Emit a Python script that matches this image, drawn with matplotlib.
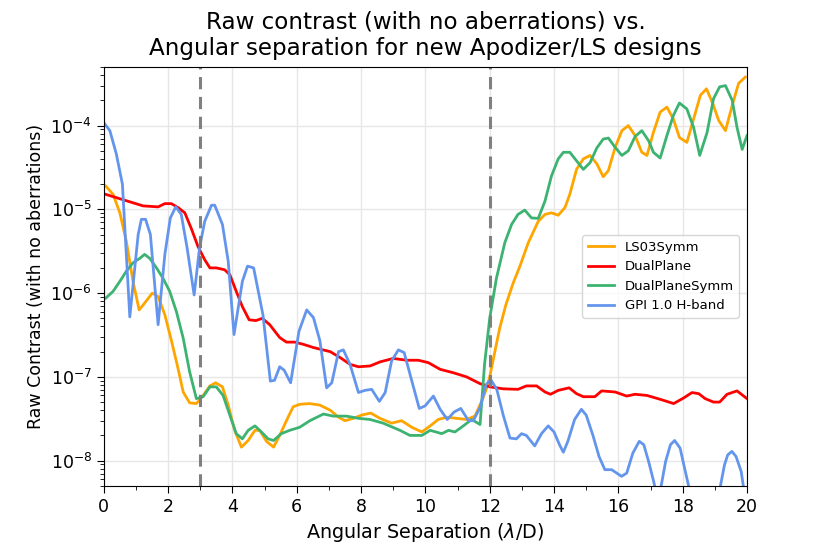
import matplotlib
matplotlib.use("Agg")
import matplotlib.pyplot as plt
from matplotlib.ticker import LogLocator, MultipleLocator, NullFormatter

# ---------------- data ----------------
ls03_x = [0.06, 0.29, 0.5, 0.7, 0.91, 1.1, 1.27, 1.51, 1.69, 1.9, 2.1, 2.31, 2.47, 2.67, 2.88,
          3.09, 3.3, 3.48, 3.69, 3.87, 4.07, 4.28, 4.49, 4.7, 4.85, 5.06, 5.28, 5.47, 5.68, 5.89,
          6.09, 6.4, 6.72, 7.04, 7.3, 7.5, 7.76, 8.02, 8.3, 8.59, 8.95, 9.26, 9.58, 9.89, 10.15,
          10.4, 10.66, 10.97, 11.28, 11.54, 11.75, 11.91, 12.0, 12.16, 12.31, 12.5, 12.73, 12.94,
          13.2, 13.51, 13.72, 13.92, 14.13, 14.34, 14.49, 14.7, 14.91, 15.12, 15.33, 15.53, 15.69,
          15.9, 16.11, 16.31, 16.52, 16.73, 16.89, 17.09, 17.3, 17.51, 17.71, 17.9, 18.13, 18.34,
          18.55, 18.74, 18.94, 19.12, 19.33, 19.54, 19.74, 19.95]
ls03_y = [1.9e-5, 1.51e-5, 9.1e-6, 4.2e-6, 1.38e-6, 6.3e-7, 7.6e-7, 1.0e-6, 9.1e-7, 5.5e-7,
          2.75e-7, 1.26e-7, 6.6e-8, 4.9e-8, 4.8e-8, 6.0e-8, 7.8e-8, 8.5e-8, 7.6e-8, 4.6e-8,
          2.3e-8, 1.45e-8, 1.74e-8, 2.3e-8, 2.3e-8, 1.7e-8, 1.45e-8, 2.0e-8, 3.0e-8, 4.4e-8,
          4.7e-8, 4.8e-8, 4.6e-8, 4.0e-8, 3.3e-8, 3.0e-8, 3.2e-8, 3.5e-8, 3.7e-8, 3.2e-8,
          2.8e-8, 3.0e-8, 2.5e-8, 2.2e-8, 2.6e-8, 3.1e-8, 3.3e-8, 3.2e-8, 3.1e-8, 3.4e-8,
          5.1e-8, 7.4e-8, 1.0e-7, 2.0e-7, 3.8e-7, 7.2e-7, 1.32e-6, 2.1e-6, 4.0e-6, 7.2e-6,
          8.7e-6, 9.1e-6, 8.5e-6, 1.05e-5, 1.51e-5, 3.0e-5, 4.0e-5, 4.4e-5, 3.5e-5, 2.45e-5,
          2.9e-5, 5.5e-5, 8.7e-5, 1.0e-4, 7.6e-5, 4.8e-5, 4.4e-5, 8.3e-5, 1.45e-4, 1.66e-4,
          1.2e-4, 7.2e-5, 6.3e-5, 1.2e-4, 2.3e-4, 2.75e-4, 1.82e-4, 1.15e-4, 8.7e-5, 1.74e-4,
          3.2e-4, 3.8e-4]

dual_x = [0.06, 0.39, 0.81, 1.22, 1.69, 1.9, 2.1, 2.31, 2.52, 2.73, 2.93, 3.14, 3.3, 3.5, 3.76,
          3.92, 4.12, 4.31, 4.52, 4.73, 4.93, 5.16, 5.47, 5.68, 5.94, 6.2, 6.52, 7.04, 7.35, 7.66,
          7.92, 8.28, 8.59, 9.0, 9.42, 9.78, 10.09, 10.46, 10.87, 11.28, 11.7, 12.01, 12.42,
          12.88, 13.14, 13.46, 13.72, 13.89, 14.13, 14.47, 14.7, 14.91, 15.27, 15.48, 15.9,
          16.26, 16.52, 16.89, 17.3, 17.72, 18.03, 18.29, 18.5, 18.7, 18.96, 19.15, 19.38,
          19.69, 20.0]
dual_y = [1.51e-5, 1.38e-5, 1.23e-5, 1.10e-5, 1.07e-5, 1.17e-5, 1.17e-5, 1.05e-5, 9.1e-6,
          5.8e-6, 3.6e-6, 2.5e-6, 2.0e-6, 2.0e-6, 1.9e-6, 1.66e-6, 1.05e-6, 6.9e-7, 4.8e-7,
          4.7e-7, 5.0e-7, 4.2e-7, 2.95e-7, 2.6e-7, 2.6e-7, 2.45e-7, 2.24e-7, 2.0e-7, 1.7e-7,
          1.41e-7, 1.32e-7, 1.35e-7, 1.51e-7, 1.66e-7, 1.58e-7, 1.58e-7, 1.48e-7, 1.23e-7,
          1.12e-7, 1.0e-7, 8.3e-8, 7.6e-8, 7.2e-8, 7.1e-8, 7.8e-8, 7.8e-8, 6.6e-8, 6.2e-8,
          6.9e-8, 7.4e-8, 6.3e-8, 5.8e-8, 5.8e-8, 6.8e-8, 6.6e-8, 5.9e-8, 6.2e-8, 6.0e-8,
          5.4e-8, 4.8e-8, 5.6e-8, 6.5e-8, 6.3e-8, 5.5e-8, 5.0e-8, 5.0e-8, 6.2e-8, 6.8e-8,
          5.5e-8]

dsym_x = [0.06, 0.29, 0.5, 0.7, 0.91, 1.12, 1.27, 1.43, 1.64, 1.84, 2.05, 2.26, 2.47, 2.67,
          2.88, 3.09, 3.3, 3.5, 3.71, 3.92, 4.12, 4.31, 4.49, 4.7, 4.9, 5.11, 5.28, 5.52, 5.78,
          6.09, 6.41, 6.83, 7.14, 7.55, 7.92, 8.28, 8.69, 9.21, 9.52, 9.89, 10.15, 10.51, 10.72,
          10.92, 11.18, 11.44, 11.7, 11.84, 12.0, 12.21, 12.47, 12.68, 12.88, 13.09, 13.3, 13.51,
          13.72, 13.92, 14.13, 14.29, 14.49, 14.7, 14.91, 15.12, 15.33, 15.53, 15.69, 15.9,
          16.11, 16.31, 16.52, 16.73, 16.94, 17.09, 17.3, 17.51, 17.71, 17.9, 18.13, 18.34,
          18.53, 18.76, 18.96, 19.15, 19.33, 19.54, 19.69, 19.85, 20.0]
dsym_y = [8.7e-7, 1.05e-6, 1.38e-6, 1.82e-6, 2.3e-6, 2.6e-6, 2.9e-6, 2.6e-6, 2.0e-6, 1.51e-6,
          1.05e-6, 6.0e-7, 2.9e-7, 1.15e-7, 5.5e-8, 5.8e-8, 7.6e-8, 7.6e-8, 6.0e-8, 3.5e-8,
          2.1e-8, 1.82e-8, 2.3e-8, 2.6e-8, 2.2e-8, 1.82e-8, 1.74e-8, 2.1e-8, 2.3e-8, 2.5e-8,
          3.0e-8, 3.6e-8, 3.4e-8, 3.4e-8, 3.2e-8, 3.1e-8, 2.8e-8, 2.3e-8, 2.0e-8, 2.0e-8,
          2.3e-8, 2.1e-8, 2.3e-8, 2.2e-8, 2.6e-8, 3.1e-8, 2.7e-8, 1.41e-7, 5.0e-7, 1.51e-6,
          4.0e-6, 6.6e-6, 8.7e-6, 9.8e-6, 7.9e-6, 7.8e-6, 1.26e-5, 2.5e-5, 4.0e-5, 4.8e-5,
          4.8e-5, 3.8e-5, 3.0e-5, 3.6e-5, 5.4e-5, 6.9e-5, 7.1e-5, 5.5e-5, 4.4e-5, 5.0e-5,
          7.4e-5, 8.7e-5, 6.6e-5, 4.8e-5, 4.1e-5, 7.6e-5, 1.32e-4, 1.86e-4, 1.58e-4, 9.5e-5,
          4.4e-5, 8.3e-5, 2.1e-4, 2.9e-4, 3.0e-4, 2.0e-4, 9.5e-5, 5.2e-5, 7.6e-5]

gpi_x = [0.03, 0.19, 0.39, 0.58, 0.81, 1.07, 1.17, 1.3, 1.45, 1.69, 1.9, 2.07, 2.24, 2.41, 2.59,
         2.81, 2.98, 3.14, 3.35, 3.45, 3.69, 3.87, 4.05, 4.31, 4.47, 4.66, 4.95, 5.18, 5.31,
         5.47, 5.61, 5.81, 6.07, 6.31, 6.52, 6.72, 6.93, 7.09, 7.3, 7.45, 7.66, 7.92, 8.12,
         8.33, 8.57, 8.75, 8.95, 9.16, 9.34, 9.58, 9.81, 9.99, 10.25, 10.46, 10.68, 10.89,
         11.1, 11.34, 11.49, 11.7, 11.89, 12.03, 12.22, 12.42, 12.63, 12.83, 12.99, 13.14,
         13.4, 13.61, 13.82, 14.0, 14.17, 14.29, 14.43, 14.64, 14.85, 15.0, 15.21, 15.4, 15.58,
         15.79, 15.95, 16.1, 16.26, 16.45, 16.65, 16.79, 16.94, 17.1, 17.24, 17.47, 17.62,
         17.75, 17.92, 18.06, 18.2, 18.4, 18.65, 18.95, 19.17, 19.3, 19.4, 19.53, 19.66, 19.82,
         20.0]
gpi_y = [1.05e-4, 8.7e-5, 4.6e-5, 2.0e-5, 5.2e-7, 5.0e-6, 7.6e-6, 7.6e-6, 5.0e-6, 4.2e-7,
         2.9e-6, 7.9e-6, 1.07e-5, 8.7e-6, 3.5e-6, 9.5e-7, 3.5e-6, 7.2e-6, 1.12e-5, 1.12e-5,
         6.6e-6, 2.4e-6, 3.2e-7, 1.38e-6, 2.1e-6, 2.0e-6, 5.5e-7, 8.9e-8, 9.1e-8, 1.32e-7,
         1.2e-7, 8.5e-8, 3.5e-7, 6.3e-7, 5.1e-7, 2.7e-7, 7.4e-8, 8.5e-8, 2.0e-7, 2.1e-7,
         1.4e-7, 6.5e-8, 6.9e-8, 7.1e-8, 5.1e-8, 6.5e-8, 1.55e-7, 2.1e-7, 1.95e-7, 8.9e-8,
         4.2e-8, 4.5e-8, 5.9e-8, 4.1e-8, 3.1e-8, 3.8e-8, 4.2e-8, 3.0e-8, 3.0e-8, 4.3e-8,
         8.1e-8, 9.3e-8, 7.1e-8, 3.5e-8, 1.86e-8, 1.82e-8, 2.1e-8, 2.0e-8, 1.5e-8, 2.1e-8,
         2.6e-8, 2.2e-8, 1.55e-8, 1.26e-8, 1.7e-8, 3.1e-8, 4.1e-8, 3.5e-8, 2.0e-8, 1.12e-8,
         7.8e-9, 7.8e-9, 7.1e-9, 6.5e-9, 7.1e-9, 1.23e-8, 1.7e-8, 1.55e-8, 9.8e-9, 5.6e-9,
         3.2e-9, 9.8e-9, 1.55e-8, 1.74e-8, 1.41e-8, 8.1e-9, 4.7e-9, 2.0e-9, 1.0e-9, 2.0e-9,
         4.9e-9, 8.9e-9, 1.17e-8, 1.29e-8, 1.12e-8, 7.4e-9, 2.5e-9]

series_labels = ["LS03Symm", "DualPlane", "DualPlaneSymm", "GPI 1.0 H-band"]
series_colors = ["orange", "red", "mediumseagreen", "cornflowerblue"]
marker_lines = [3, 12]

title_text = "Raw contrast (with no aberrations) vs.\nAngular separation for new Apodizer/LS designs"
xlabel_text = "Angular Separation ($\\lambda$/D)"
ylabel_text = "Raw Contrast (with no aberrations)"

# ---------------- figure ----------------
fig = plt.figure(figsize=(8.3, 5.54), dpi=100)
ax = fig.add_axes([0.125, 0.123, 0.775, 0.756])

series = [(ls03_x, ls03_y), (dual_x, dual_y), (dsym_x, dsym_y), (gpi_x, gpi_y)]
for (xs, ys), lab, col in zip(series, series_labels, series_colors):
    ax.plot(xs, ys, color=col, lw=2, label=lab)

for xv in marker_lines:
    ax.axvline(xv, color="gray", ls="--", lw=2.2, dashes=(4, 2.5))

ax.set_yscale("log")
ax.set_xlim(0, 20)
ax.set_ylim(5e-9, 5e-4)
ax.xaxis.set_major_locator(MultipleLocator(2))
ax.xaxis.set_minor_locator(MultipleLocator(1))
ax.yaxis.set_major_locator(LogLocator(base=10, numticks=20))
ax.yaxis.set_minor_locator(LogLocator(base=10, subs=range(2, 10), numticks=20))
ax.yaxis.set_minor_formatter(NullFormatter())
ax.grid(True, which="major", color="#e6e6e6", lw=1)
ax.set_axisbelow(True)
ax.tick_params(axis="both", which="major", labelsize=12.5, length=5)
ax.tick_params(axis="both", which="minor", length=3)

ax.set_xlabel(xlabel_text, fontsize=13.8)
ax.set_ylabel(ylabel_text, fontsize=12.5)
ax.set_title(title_text, fontsize=16.6, pad=9, linespacing=1.15)

ax.legend(loc="center right", fontsize=9.5, frameon=True, borderaxespad=0.6)

fig.savefig("out.png", dpi=100)
